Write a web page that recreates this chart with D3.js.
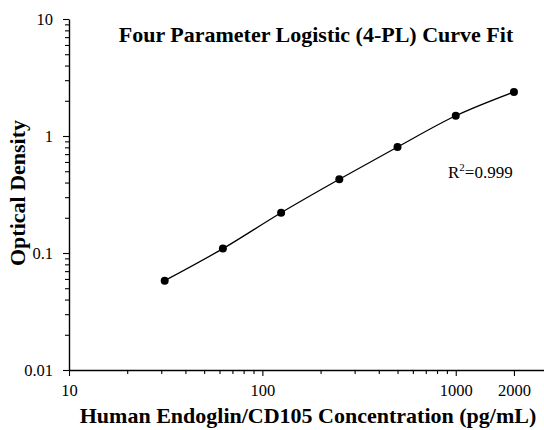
<!DOCTYPE html>
<html>
<head>
<meta charset="utf-8">
<script src="https://cdn.jsdelivr.net/npm/d3@7"></script>
<style>
  body { margin: 0; background: #fff; }
  text { font-family: "Liberation Serif", "Times New Roman", serif; }
</style>
</head>
<body>
<div id="chart"></div>
<script>
// standard concentrations (pg/mL) and measured OD
var conc = [31.25, 62.5, 125, 250, 500, 1000, 2000];
var od = [0.058, 0.109, 0.221, 0.427, 0.805, 1.49, 2.38];
var xTickLabels = [10, 100, 1000, 2000];
var yTickLabels = [0.01, 0.1, 1, 10];

var W = 544, H = 430;
var margin = { top: 19, right: -4, bottom: 60, left: 69 },
    width = W - margin.left - margin.right,
    height = H - margin.top - margin.bottom;

var svg = d3.select("#chart")
    .append("svg")
    .attr("width", W)
    .attr("height", H)
    .style("display", "block");

var g = svg.append("g")
    .attr("transform", "translate(" + margin.left + "," + margin.top + ")");

var x = d3.scaleLog().domain([10, 3000]).range([0, width]);
var y = d3.scaleLog().domain([0.01, 10]).range([height, 0]);

// minor ticks
var xMinor = x.ticks().filter(function (v) { return xTickLabels.indexOf(v) < 0; });
var yMinor = y.ticks().filter(function (v) { return yTickLabels.indexOf(v) < 0; });

g.append("g")
    .attr("transform", "translate(0," + height + ")")
    .call(d3.axisBottom(x).tickValues(xMinor).tickSize(4).tickFormat(""))
    .call(function (s) { s.select(".domain").remove(); });

g.append("g")
    .call(d3.axisLeft(y).tickValues(yMinor).tickSize(4).tickFormat(""))
    .call(function (s) { s.select(".domain").remove(); });

// major ticks + labels
var xAxis = g.append("g")
    .attr("transform", "translate(0," + height + ")")
    .call(d3.axisBottom(x).tickValues(xTickLabels).tickSize(6).tickSizeOuter(0)
        .tickPadding(8).tickFormat(d3.format("d")));

var yAxis = g.append("g")
    .call(d3.axisLeft(y).tickValues(yTickLabels).tickSize(6).tickSizeOuter(0)
        .tickPadding(10).tickFormat(function (d) { return String(d); }));

[xAxis, yAxis].forEach(function (a) {
    a.selectAll("text")
        .style("font-family", "Liberation Serif, serif")
        .style("font-size", "16.5px")
        .attr("fill", "#000");
    a.select(".domain").attr("stroke-width", 1.4);
});
g.selectAll(".tick line").attr("stroke", "#000").attr("stroke-width", 1.1);

// fitted curve
var line = d3.line()
    .x(function (d, i) { return x(conc[i]); })
    .y(function (d) { return y(d); })
    .curve(d3.curveCatmullRom.alpha(0.5));

g.append("path")
    .datum(od)
    .attr("d", line)
    .attr("fill", "none")
    .attr("stroke", "#000")
    .attr("stroke-width", 1.3);

g.selectAll(".pt")
    .data(od)
    .enter()
    .append("circle")
    .attr("class", "pt")
    .attr("cx", function (d, i) { return x(conc[i]); })
    .attr("cy", function (d) { return y(d); })
    .attr("r", 4)
    .attr("fill", "#000");

// R squared
var r2 = svg.append("text")
    .attr("x", 448)
    .attr("y", 178)
    .style("font-size", "17px");
r2.append("tspan").text("R");
r2.append("tspan").attr("dy", -7).style("font-size", "11px").text("2");
r2.append("tspan").attr("dy", 7).text("=0.999");

// title
svg.append("text")
    .attr("x", 316)
    .attr("y", 42)
    .attr("text-anchor", "middle")
    .style("font-size", "22px")
    .style("font-weight", "bold")
    .text("Four Parameter Logistic (4-PL) Curve Fit");

// axis titles
svg.append("text")
    .attr("x", 308)
    .attr("y", 423)
    .attr("text-anchor", "middle")
    .style("font-size", "22px")
    .style("font-weight", "bold")
    .text("Human Endoglin/CD105 Concentration (pg/mL)");

svg.append("text")
    .attr("transform", "translate(25,193) rotate(-90)")
    .attr("text-anchor", "middle")
    .style("font-size", "22px")
    .style("font-weight", "bold")
    .text("Optical Density");
</script>
</body>
</html>
